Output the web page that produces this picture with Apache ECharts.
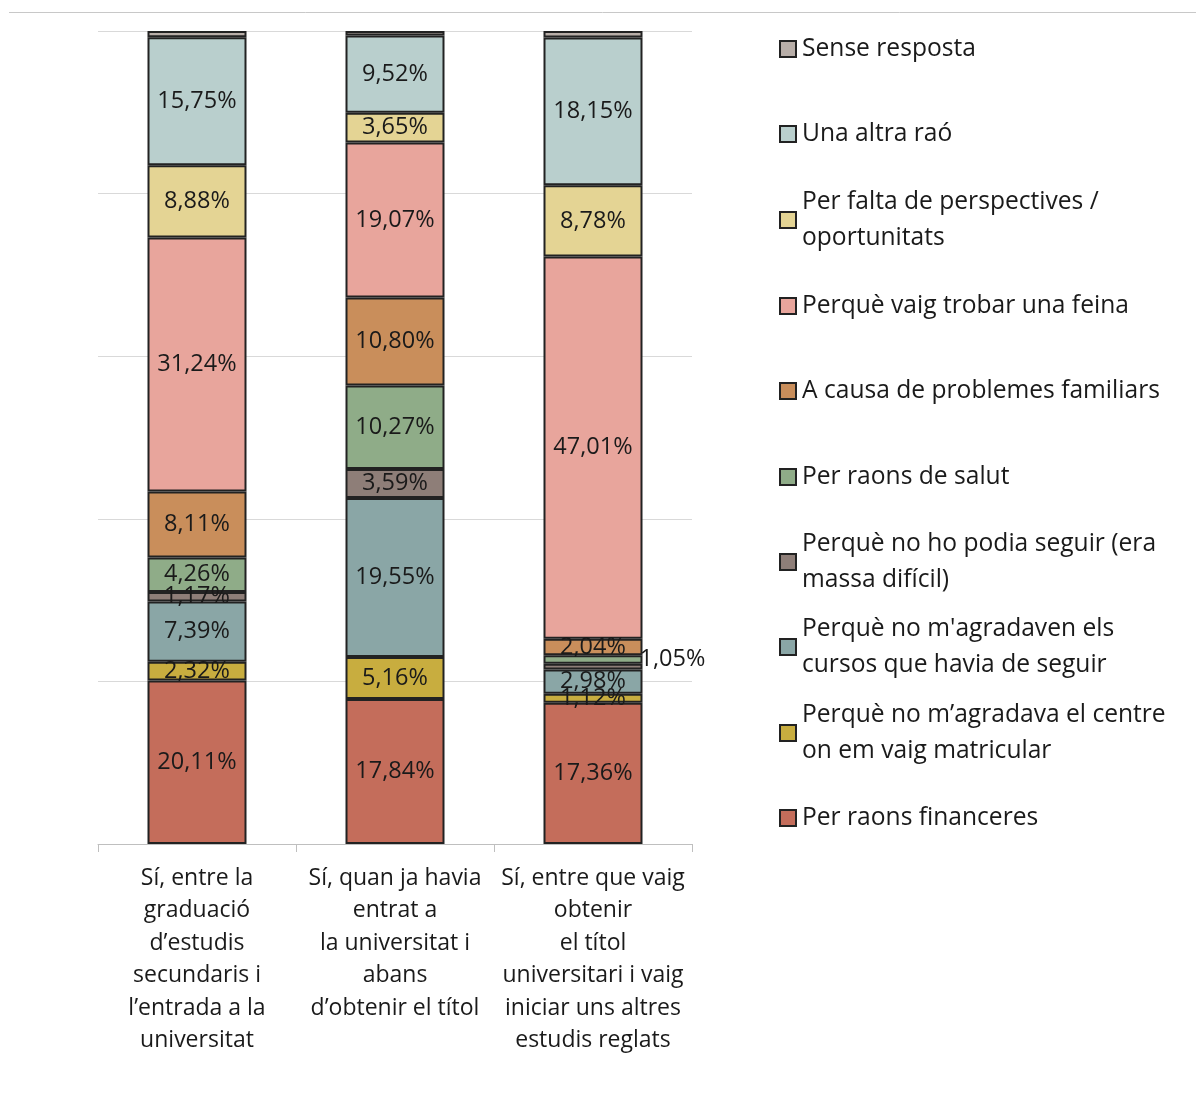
<!DOCTYPE html>
<html>
<head>
<meta charset="utf-8">
<script src="https://cdn.jsdelivr.net/npm/echarts@6/dist/echarts.min.js"></script>
<style>
  html, body { margin: 0; padding: 0; background: #fff; }
  #chart { width: 1196px; height: 1095px; }
</style>
</head>
<body>
<div id="chart"></div>
<script>
// categories (x axis)
const categories = [
  'Sí, entre la\ngraduació\nd’estudis\nsecundaris i\nl’entrada a la\nuniversitat',
  'Sí, quan ja havia\nentrat a\nla universitat i\nabans\nd’obtenir el títol',
  'Sí, entre que vaig\nobtenir\nel títol\nuniversitari i vaig\niniciar uns altres\nestudis reglats'
]

// series, bottom to top of the stack
const seriesNames = [
  'Per raons financeres',
  'Perquè no m’agradava el centre on em vaig matricular',
  "Perquè no m'agradaven els cursos que havia de seguir",
  'Perquè no ho podia seguir (era massa difícil)',
  'Per raons de salut',
  'A causa de problemes familiars',
  'Perquè vaig trobar una feina',
  'Per falta de perspectives / oportunitats',
  'Una altra raó',
  'Sense resposta'
]
const legendLabels = [
  'Per raons financeres',
  'Perquè no m’agradava el centre\non em vaig matricular',
  "Perquè no m'agradaven els\ncursos que havia de seguir",
  'Perquè no ho podia seguir (era\nmassa difícil)',
  'Per raons de salut',
  'A causa de problemes familiars',
  'Perquè vaig trobar una feina',
  'Per falta de perspectives /\noportunitats',
  'Una altra raó',
  'Sense resposta'
]

const financeres = [20.11, 17.84, 17.36]
const centre = [2.32, 5.16, 1.12]
const cursos = [7.39, 19.55, 2.98]
const podiaSeguir = [1.17, 3.59, 0.70]
const salut = [4.26, 10.27, 1.05]
const familiars = [8.11, 10.80, 2.04]
const feina = [31.24, 19.07, 47.01]
const perspectives = [8.88, 3.65, 8.78]
const altraRao = [15.75, 9.52, 18.15]
const senseResposta = [0.77, 0.55, 0.81]

const values = [financeres, centre, cursos, podiaSeguir, salut, familiars, feina, perspectives, altraRao, senseResposta]

const colors = [
  '#c46d5b', '#c8ad3f', '#8aa6a6', '#8e7e78', '#8fac88',
  '#c98e5b', '#e8a59c', '#e4d494', '#b9cfcd', '#b8aea8'
]

const fontFamily = '"Open Sans", "Noto Sans", sans-serif'
const fmt = v => v.toFixed(2).replace('.', ',') + '%'

const chart = echarts.init(document.getElementById('chart'))

const series = seriesNames.map((name, s) => ({
  name,
  type: 'bar',
  stack: 'total',
  barWidth: '50%',
  itemStyle: { color: colors[s], borderColor: '#222', borderWidth: 2 },
  data: values[s].map((v, i) => {
    const showLabel = s !== 9 && v >= 1
    const outside = s === 4 && i === 2
    return {
      value: v,
      label: {
        show: showLabel,
        position: outside ? 'right' : 'inside',
        distance: outside ? -3 : 5
      }
    }
  }),
  label: {
    color: '#1a1a1a',
    fontFamily,
    fontSize: 23.5,
    formatter: p => fmt(p.value)
  },
  emphasis: { disabled: true }
}))

// one legend per item, so every entry sits at its own row
const legendRows = [818, 733, 647, 562, 477, 391, 306, 220, 134, 49]
const legends = seriesNames.map((name, s) => {
  const twoLines = legendLabels[s].indexOf('\n') >= 0
  return {
    data: [{ name, icon: 'rect' }],
    orient: 'vertical',
    left: 779,
    top: legendRows[s] - (twoLines ? 54 : 18),
    padding: 0,
    itemWidth: 16,
    itemHeight: 16,
    selectedMode: false,
    formatter: () => legendLabels[s],
    textStyle: {
      color: '#1a1a1a',
      fontFamily,
      fontSize: 24.6,
      lineHeight: 36,
      padding: twoLines ? [36, 0, 0, 1] : [0, 0, 0, 1]
    }
  }
})

chart.setOption({
  animation: false,
  graphic: [{
    type: 'line',
    shape: { x1: 9, y1: 12.5, x2: 1196, y2: 12.5 },
    style: { stroke: '#c8c8c8', lineWidth: 1 }
  }],
  grid: { left: 98, right: 504, top: 31, bottom: 251, containLabel: false },
  legend: legends,
  xAxis: {
    type: 'category',
    data: categories,
    axisLine: { lineStyle: { color: '#bfbfbf', width: 1 } },
    axisTick: { show: true, length: 8, interval: 0, lineStyle: { color: '#bfbfbf' } },
    axisLabel: {
      interval: 0,
      margin: 18,
      color: '#1a1a1a',
      fontFamily,
      fontSize: 23,
      lineHeight: 32.5
    }
  },
  yAxis: {
    type: 'value',
    min: 0,
    max: 100,
    interval: 20,
    axisLabel: { show: false },
    axisLine: { show: false },
    axisTick: { show: false },
    splitLine: { lineStyle: { color: '#d9d9d9', width: 1 } }
  },
  series
})
</script>
</body>
</html>
